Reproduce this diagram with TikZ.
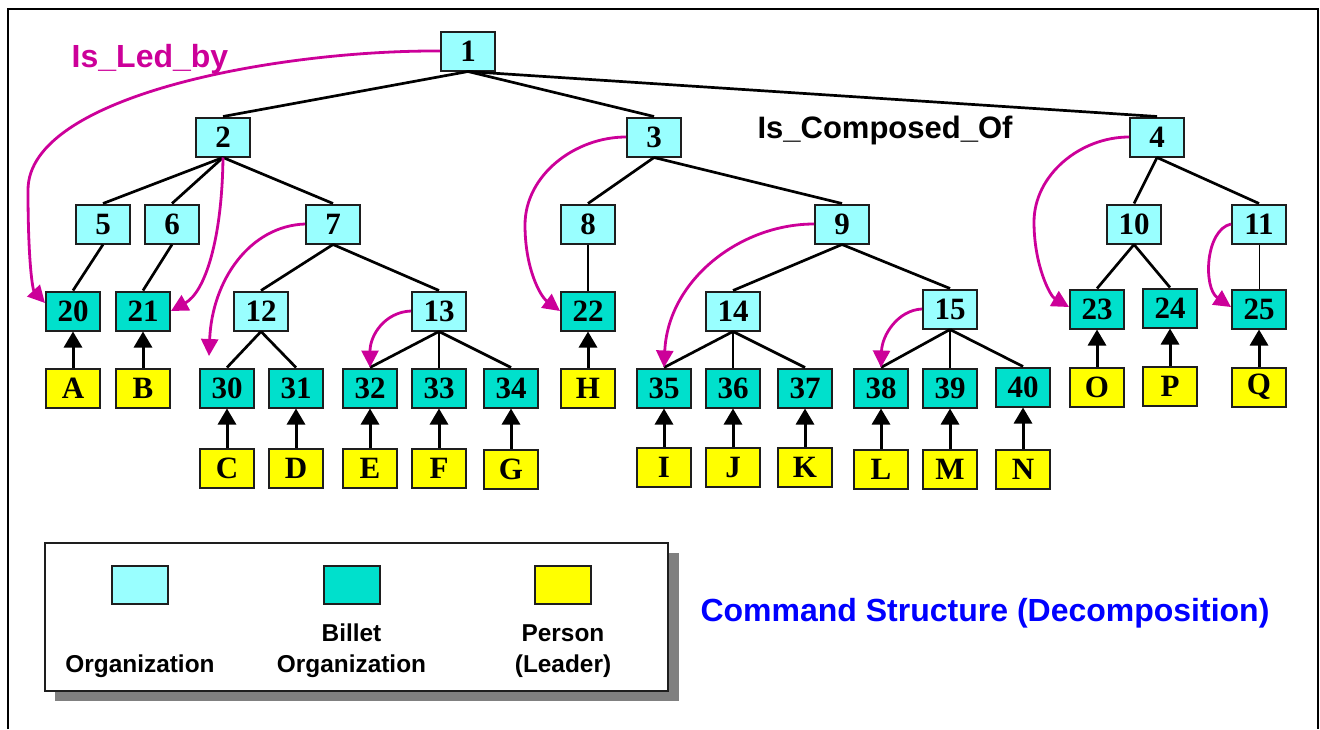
\documentclass[tikz,border=0pt]{standalone}
\usepackage{fontspec}
\usetikzlibrary{arrows.meta}
\newfontfamily\serifbold{Liberation Serif}
\newfontfamily\sansbold{Liberation Sans}
\definecolor{orgfill}{RGB}{153,255,255}
\definecolor{billetfill}{RGB}{0,224,204}
\definecolor{personfill}{RGB}{255,255,0}
\definecolor{ledcolor}{RGB}{204,0,153}
\definecolor{titleblue}{RGB}{0,0,255}
\definecolor{edgegray}{RGB}{30,30,30}
\definecolor{shadowgray}{RGB}{128,128,128}
\begin{document}
\begin{tikzpicture}[x=0.5pt,y=-0.5pt,
  box/.style={draw=edgegray,line width=1pt,minimum width=27pt,minimum height=19.5pt,
    inner sep=0pt,font=\serifbold\bfseries\fontsize{15.5}{16}\selectfont},
  org/.style={box,fill=orgfill},
  billet/.style={box,fill=billetfill},
  person/.style={box,fill=personfill},
  treeedge/.style={line width=1.35pt},
  thinedge/.style={line width=0.5pt},
  leads/.style={line width=1.5pt,-{Triangle[length=8pt,width=9pt]}},
  ledarrow/.style={draw=ledcolor,line width=1.4pt,-{Triangle[length=8.5pt,width=8.5pt]}},
  swatch/.style={draw=edgegray,line width=1pt,minimum width=28pt,minimum height=19pt,inner sep=0pt},
  legendtext/.style={font=\sansbold\bfseries\fontsize{12.2}{14}\selectfont,anchor=base,inner sep=0pt},
  bigtext/.style={font=\sansbold\bfseries\fontsize{#1}{18}\selectfont,anchor=base,inner sep=0pt},
]
\useasboundingbox (0,0) rectangle (1320,729);

% page frame
\draw[line width=1pt] (8,729) -- (8,9) -- (1318,9) -- (1318,729);

% organisations
\node[org] (n1) at (468,51) {1};
\node[org] (n2) at (223,137) {2};
\node[org] (n3) at (654,137) {3};
\node[org] (n4) at (1157,137) {4};
\node[org] (n5) at (103,224) {5};
\node[org] (n6) at (172,224) {6};
\node[org] (n7) at (333,224) {7};
\node[org] (n8) at (588,224) {8};
\node[org] (n9) at (842,224) {9};
\node[org] (n10) at (1134,224) {10};
\node[org] (n11) at (1259,224) {11};
\node[org] (n12) at (261,311) {12};
\node[org] (n13) at (439,311) {13};
\node[org] (n14) at (733,311) {14};
\node[org] (n15) at (950,309) {15};

% billets
\node[billet] (n20) at (73,311) {20};
\node[billet] (n21) at (143,311) {21};
\node[billet] (n22) at (588,311) {22};
\node[billet] (n23) at (1097,309) {23};
\node[billet] (n24) at (1170,308) {24};
\node[billet] (n25) at (1259,309) {25};
\node[billet] (n30) at (227,388) {30};
\node[billet] (n31) at (296,388) {31};
\node[billet] (n32) at (370,388) {32};
\node[billet] (n33) at (439,388) {33};
\node[billet] (n34) at (511,388) {34};
\node[billet] (n35) at (664,388) {35};
\node[billet] (n36) at (733,388) {36};
\node[billet] (n37) at (805,388) {37};
\node[billet] (n38) at (881,388) {38};
\node[billet] (n39) at (950,388) {39};
\node[billet] (n40) at (1023,387) {40};

% persons
\node[person] (pA) at (73,388) {A};
\node[person] (pB) at (143,388) {B};
\node[person] (pH) at (588,388) {H};
\node[person] (pO) at (1097,387) {O};
\node[person] (pP) at (1170,386) {P};
\node[person] (pQ) at (1259,387) {Q};
\node[person] (pC) at (227,468) {C};
\node[person] (pD) at (296,468) {D};
\node[person] (pE) at (370,468) {E};
\node[person] (pF) at (439,468) {F};
\node[person] (pG) at (511,469) {G};
\node[person] (pI) at (664,467) {I};
\node[person] (pJ) at (733,467) {J};
\node[person] (pK) at (805,467) {K};
\node[person] (pL) at (881,469) {L};
\node[person] (pM) at (950,469) {M};
\node[person] (pN) at (1023,469) {N};

% Is_Composed_Of edges
\foreach \p/\c in {n1/n2,n1/n3,n1/n4,n2/n5,n2/n6,n2/n7,n5/n20,n6/n21,n7/n12,n7/n13,
  n12/n30,n12/n31,n13/n32,n13/n33,n13/n34,n3/n8,n3/n9,n8/n22,n9/n14,n9/n15,
  n14/n35,n14/n36,n14/n37,n15/n38,n15/n39,n15/n40,n4/n10,n4/n11,n10/n23,n10/n24}
  \draw[treeedge] (\p.south) -- (\c.north);
\draw[thinedge] (n11.south) -- (n25.north);

% persons lead billets
\foreach \p/\b in {pA/n20,pB/n21,pC/n30,pD/n31,pE/n32,pF/n33,pG/n34,pH/n22,
  pI/n35,pJ/n36,pK/n37,pL/n38,pM/n39,pN/n40,pO/n23,pP/n24,pQ/n25}
  \draw[leads] (\p.north) -- (\b.south);

% Is_Led_by arrows
\coordinate (free7) at (209,356);
\draw[ledarrow] (n1.west) .. controls (280,50) and (28,95) .. (28,190)
  .. controls (28,265) and (33,290) .. ([yshift=4pt]n20.west);
\draw[ledarrow] (n2.south) .. controls (222,240) and (205,292) .. (n21.east);
\draw[ledarrow] (n7.west) .. controls (250,226) and (212,280) .. (free7);
\draw[ledarrow] (n13.west) .. controls (385,312) and (370,335) .. (n32.north);
\draw[ledarrow] (n3.west) .. controls (575,137) and (525,175) .. (525,225)
  .. controls (525,268) and (540,296) .. (n22.west);
\draw[ledarrow] (n9.west) .. controls (740,224) and (668,280) .. (n35.north);
\draw[ledarrow] (n15.west) .. controls (898,310) and (882,335) .. (n38.north);
\draw[ledarrow] (n4.west) .. controls (1080,137) and (1034,175) .. (1034,222)
  .. controls (1034,265) and (1050,296) .. ([yshift=1pt]n23.west);
\draw[ledarrow] (n11.west) .. controls (1205,230) and (1203,288) .. ([yshift=1pt]n25.west);

% relation labels
\node[bigtext=16,text=ledcolor] (ledlabel) at (150,67) {Is\_Led\_by};
\node[bigtext=15.5] (complabel) at (885,138) {Is\_Composed\_Of};
\node[bigtext=16,text=titleblue] (title) at (985,621) {Command Structure (Decomposition)};

% legend
\fill[shadowgray] (55,553) rectangle (679,701);
\draw[draw=edgegray,fill=white,line width=0.6pt] (45,543) rectangle (668,691);
\node[swatch,fill=orgfill] (legorg) at (140,585) {};
\node[swatch,fill=billetfill] (legbillet) at (351.5,585) {};
\node[swatch,fill=personfill] (legperson) at (563,585) {};
\node[legendtext] (txtorg) at (140,672) {Organization};
\node[legendtext] (txtbillet1) at (351.5,641) {Billet};
\node[legendtext] (txtbillet2) at (351.5,672) {Organization};
\node[legendtext] (txtperson1) at (563,641) {Person};
\node[legendtext] (txtperson2) at (563,672) {(Leader)};
\end{tikzpicture}
\end{document}
